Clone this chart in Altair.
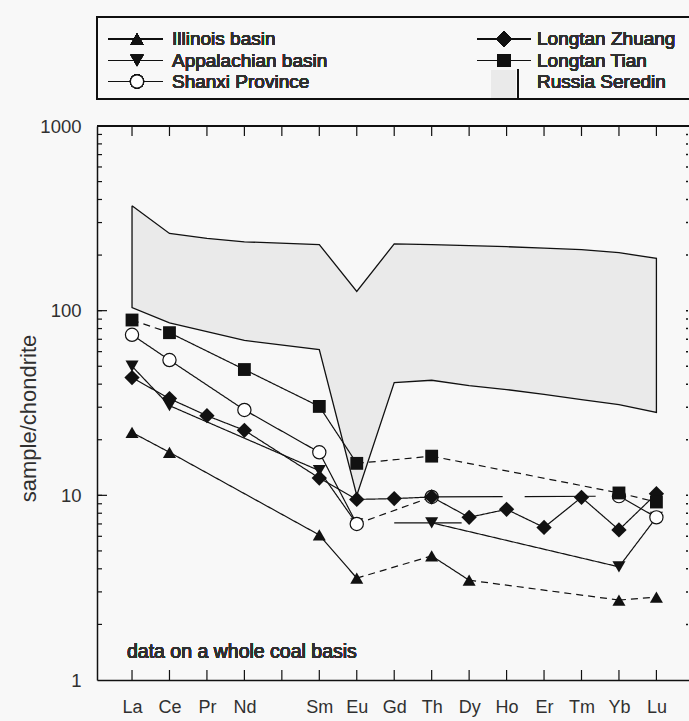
import altair as alt
import pandas as pd

# ---- data -----------------------------------------------------------------
elements = ["La", "Ce", "Pr", "Nd", "Pm", "Sm", "Eu", "Gd", "Th", "Dy",
            "Ho", "Er", "Tm", "Yb", "Lu"]
tick_labels = ["La", "Ce", "Pr", "Nd", "", "Sm", "Eu", "Gd", "Th", "Dy",
               "Ho", "Er", "Tm", "Yb", "Lu"]

illinois_el = ["La", "Ce", "Sm", "Eu", "Th", "Dy", "Yb", "Lu"]
illinois_val = [21.9, 17.1, 6.1, 3.56, 4.7, 3.47, 2.71, 2.81]
illinois_seg = ["solid", "solid", "solid", "dash", "solid", "dash", "dash"]

appalachian_el = ["La", "Ce", "Sm", "Eu", "Th", "Yb", "Lu"]
appalachian_val = [50.0, 30.6, 13.6, 7.0, 7.1, 4.1, 7.6]
appalachian_seg = ["solid", "solid", "solid", "none", "solid", "solid"]

shanxi_el = ["La", "Ce", "Nd", "Sm", "Eu", "Th", "Yb", "Lu"]
shanxi_val = [74.0, 54.0, 29.0, 17.1, 7.0, 9.8, 9.9, 7.6]
shanxi_seg = ["solid", "solid", "solid", "solid", "dash", "long", "solid"]

zhuang_el = ["La", "Ce", "Pr", "Nd", "Sm", "Eu", "Gd", "Th", "Dy", "Ho",
             "Er", "Tm", "Yb", "Lu"]
zhuang_val = [43.4, 33.4, 27.0, 22.5, 12.4, 9.5, 9.6, 9.8, 7.6, 8.4,
              6.7, 9.75, 6.5, 10.2]
zhuang_seg = ["solid"] * 13

tian_el = ["La", "Ce", "Nd", "Sm", "Eu", "Th", "Yb", "Lu"]
tian_val = [89.0, 76.0, 48.0, 30.3, 14.9, 16.3, 10.3, 9.2]
tian_seg = ["dash", "solid", "solid", "solid", "dash", "dash", "dash"]

# flat bar drawn across Appalachian Th (start, end in element units, value)
flat_start = [7.0]
flat_end = [8.8]
flat_val = [7.1]

# Russia (Seredin) range
russia_el = ["La", "Ce", "Pr", "Nd", "Sm", "Eu", "Gd", "Th", "Dy", "Ho",
             "Er", "Tm", "Yb", "Lu"]
russia_low = [104, 86, 77, 69, 61.5, 10, 40.8, 42, 39.3, 37.4, 35.2, 33.0,
              31.0, 28.1]
russia_high = [370, 262, 246, 236, 228, 127, 230, 228, 225, 222, 218, 214,
               206, 192]

series_names = ["Illinois basin", "Appalachian basin", "Shanxi Province",
                "Longtan Zhuang", "Longtan Tian"]

# ---- tables -----------------------------------------------------------------
pos = {e: i for i, e in enumerate(elements)}


def points(name, els, vals):
    return pd.DataFrame({"series": name, "x": [pos[e] for e in els], "v": vals})


def segments(name, els, vals, styles):
    rows = []
    for i, st in enumerate(styles):
        if st == "none":
            continue
        rows.append({"series": name, "x": pos[els[i]], "x2": pos[els[i + 1]],
                     "v": vals[i], "v2": vals[i + 1], "style": st})
    return rows


seg_rows = []
seg_rows += segments("Illinois basin", illinois_el, illinois_val, illinois_seg)
seg_rows += segments("Appalachian basin", appalachian_el, appalachian_val, appalachian_seg)
seg_rows += segments("Shanxi Province", shanxi_el, shanxi_val, shanxi_seg)
seg_rows += segments("Longtan Zhuang", zhuang_el, zhuang_val, zhuang_seg)
seg_rows += segments("Longtan Tian", tian_el, tian_val, tian_seg)
for s, e, v in zip(flat_start, flat_end, flat_val):
    seg_rows.append({"series": "Appalachian basin", "x": s, "x2": e, "v": v,
                     "v2": v, "style": "solid"})
seg_df = pd.DataFrame(seg_rows)

russia_df = pd.DataFrame({"x": [pos[e] for e in russia_el],
                          "low": russia_low, "high": russia_high})
outline = ([{"x": pos[e], "v": h} for e, h in zip(russia_el, russia_high)] +
           [{"x": pos[e], "v": l} for e, l in zip(russia_el[::-1], russia_low[::-1])] +
           [{"x": pos[russia_el[0]], "v": russia_high[0]}])
outline_df = pd.DataFrame(outline)
outline_df["k"] = range(len(outline_df))

W, H = 592, 554
INK = "#111111"
TXT = "#303030"
FONT = "Liberation Sans"
FS = 19

xs = alt.Scale(domain=[-0.935, 14.87], nice=False, zero=False)
ys = alt.Scale(type="log", domain=[1, 1000], nice=False)

label_expr = "[" + ",".join("'%s'" % t for t in tick_labels) + "][datum.value]"
x_axis = alt.Axis(
    values=list(range(len(elements))), labelExpr=label_expr, ticks=False,
    grid=False, domainColor=INK, domainWidth=1.5, labelFont=FONT,
    labelFontSize=18, labelColor=TXT, labelPadding=18, title=None,
    labelFlush=False)
y_axis = alt.Axis(
    values=[1, 10, 100, 1000], format="d", ticks=False, grid=False,
    domainColor=INK, domainWidth=1.5, labelFont=FONT, labelFontSize=18.5,
    labelColor=TXT, labelPadding=16, labelFlush=False,
    title="sample/chondrite", titleFont=FONT, titleFontSize=22,
    titleFontWeight="normal", titleColor=TXT, titleX=-69, titleY=292,
    titleAngle=-90, titleAlign="center", titleBaseline="middle")

X = lambda f: alt.X(f, type="quantitative", scale=xs, axis=x_axis)
Y = lambda f: alt.Y(f, type="quantitative", scale=ys, axis=y_axis)

band = alt.Chart(russia_df).mark_area(color="#eaeaea", opacity=1).encode(
    x=X("x"), y=Y("low"), y2="high")
band_line = alt.Chart(outline_df).mark_line(color=INK, strokeWidth=1.3).encode(
    x=X("x"), y=Y("v"), order="k:Q")

seg = alt.Chart(seg_df).mark_rule(color=INK, strokeWidth=1.2).encode(
    x=X("x"), x2="x2", y=Y("v"), y2="v2",
    strokeDash=alt.StrokeDash("style:N", legend=None, scale=alt.Scale(
        domain=["solid", "dash", "long"], range=[[1, 0], [7, 5], [71, 22]])))

SIZES = {"triangle-up": 170, "triangle-down": 170, "circle": 175,
         "diamond": 235, "square": 165}


def marker(df, shape, filled=True):
    if filled:
        m = alt.Chart(df).mark_point(shape=shape, filled=True, color=INK,
                                     size=SIZES[shape], opacity=1)
    else:
        m = alt.Chart(df).mark_point(shape=shape, filled=True, fill="white",
                                     stroke=INK, strokeWidth=1.2,
                                     size=SIZES[shape], opacity=1)
    return m


pt_ill = marker(points("Illinois basin", illinois_el, illinois_val),
                "triangle-up").encode(x=X("x"), y=Y("v"))
pt_app = marker(points("Appalachian basin", appalachian_el, appalachian_val),
                "triangle-down").encode(x=X("x"), y=Y("v"))
pt_sha = marker(points("Shanxi Province", shanxi_el, shanxi_val),
                "circle", filled=False).encode(x=X("x"), y=Y("v"))
pt_zhu = marker(points("Longtan Zhuang", zhuang_el, zhuang_val),
                "diamond").encode(x=X("x"), y=Y("v"))
pt_tia = marker(points("Longtan Tian", tian_el, tian_val),
                "square").encode(x=X("x"), y=Y("v"))

# ---- frame ticks ------------------------------------------------------------
major = [10, 100]
minor = [m * d for d in (1, 10, 100) for m in range(2, 10)]
tick_df = pd.DataFrame({"v": major + minor,
                        "len": [10] * len(major) + [5] * len(minor)})

left_ticks = alt.Chart(tick_df).mark_rule(color=INK, strokeWidth=1.2).encode(
    y=Y("v"), x=alt.value(0), x2=alt.value(5))
left_major = alt.Chart(tick_df[tick_df["len"] == 10]).mark_rule(
    color=INK, strokeWidth=1.2).encode(y=Y("v"), x=alt.value(0), x2=alt.value(10))
right_ticks = alt.Chart(tick_df).mark_rule(color=INK, strokeWidth=1.5).encode(
    y=Y("v"), x=alt.value(W - 3), x2=alt.value(W - 1))

cat_df = pd.DataFrame({"x": list(range(len(elements)))})
top_ticks = alt.Chart(cat_df).mark_rule(color=INK, strokeWidth=1.2).encode(
    x=X("x"), y=alt.value(0), y2=alt.value(10))
bottom_ticks = alt.Chart(cat_df).mark_rule(color=INK, strokeWidth=1.2).encode(
    x=X("x"), y=alt.value(H - 10), y2=alt.value(H))
top_line = alt.Chart(cat_df).mark_rule(color=INK, strokeWidth=1.5).encode(
    y=alt.value(0), x=alt.value(0), x2=alt.value(W + 5))

note = alt.Chart(cat_df).mark_text(
    text="data on a whole coal basis", align="left", baseline="middle",
    font=FONT, fontSize=19.5, color=TXT).encode(x=alt.value(30), y=alt.value(526))

# ---- legend box -------------------------------------------------------------
leg_layers = []
box = alt.Chart(cat_df).mark_rect(fill="transparent", stroke=INK,
                                  strokeWidth=1.5).encode(
    x=alt.value(0), x2=alt.value(W + 5), y=alt.value(-109), y2=alt.value(-27))
leg_layers.append(box)

rows_y = [-87, -65.5, -44.5]
leg_items = [
    (series_names[0], "triangle-up", 0, 0, True),
    (series_names[1], "triangle-down", 0, 1, True),
    (series_names[2], "circle", 0, 2, False),
    (series_names[3], "diamond", 1, 0, True),
    (series_names[4], "square", 1, 1, True),
]
col_x = [(11, 66, 40, 75), (380, 434, 407, 440)]
for name, shape, col, row, filled in leg_items:
    x0, x1, xm, xt = col_x[col]
    yy = rows_y[row]
    leg_layers.append(alt.Chart(cat_df).mark_rule(color=INK, strokeWidth=1.2).encode(
        x=alt.value(x0), x2=alt.value(x1), y=alt.value(yy)))
    leg_layers.append(marker(cat_df, shape, filled).encode(
        x=alt.value(xm), y=alt.value(yy)))
    leg_layers.append(alt.Chart(cat_df).mark_text(
        text=name, align="left", baseline="middle", font=FONT, fontSize=FS,
        color=TXT).encode(x=alt.value(xt), y=alt.value(yy)))

leg_layers.append(alt.Chart(cat_df).mark_rect(fill="#eaeaea").encode(
    x=alt.value(394), x2=alt.value(419), y=alt.value(-56), y2=alt.value(-28)))
leg_layers.append(alt.Chart(cat_df).mark_rule(color=INK, strokeWidth=1.5).encode(
    x=alt.value(421), y=alt.value(-57), y2=alt.value(-28)))
leg_layers.append(alt.Chart(cat_df).mark_text(
    text="Russia Seredin", align="left", baseline="middle", font=FONT,
    fontSize=FS, color=TXT).encode(x=alt.value(440), y=alt.value(rows_y[2])))

chart = alt.layer(
    band, band_line, seg, pt_ill, pt_app, pt_sha, pt_zhu, pt_tia,
    left_ticks, left_major, right_ticks, top_ticks, bottom_ticks, top_line,
    note, *leg_layers
).properties(
    width=W, height=H,
    autosize=alt.AutoSizeParams(type="none"),
    padding={"left": 97, "top": 126, "right": 0, "bottom": 41},
    background="#f8f8f8",
).configure_view(stroke=None)

chart.save("out.html", embed_options={"renderer": "svg", "actions": False})
